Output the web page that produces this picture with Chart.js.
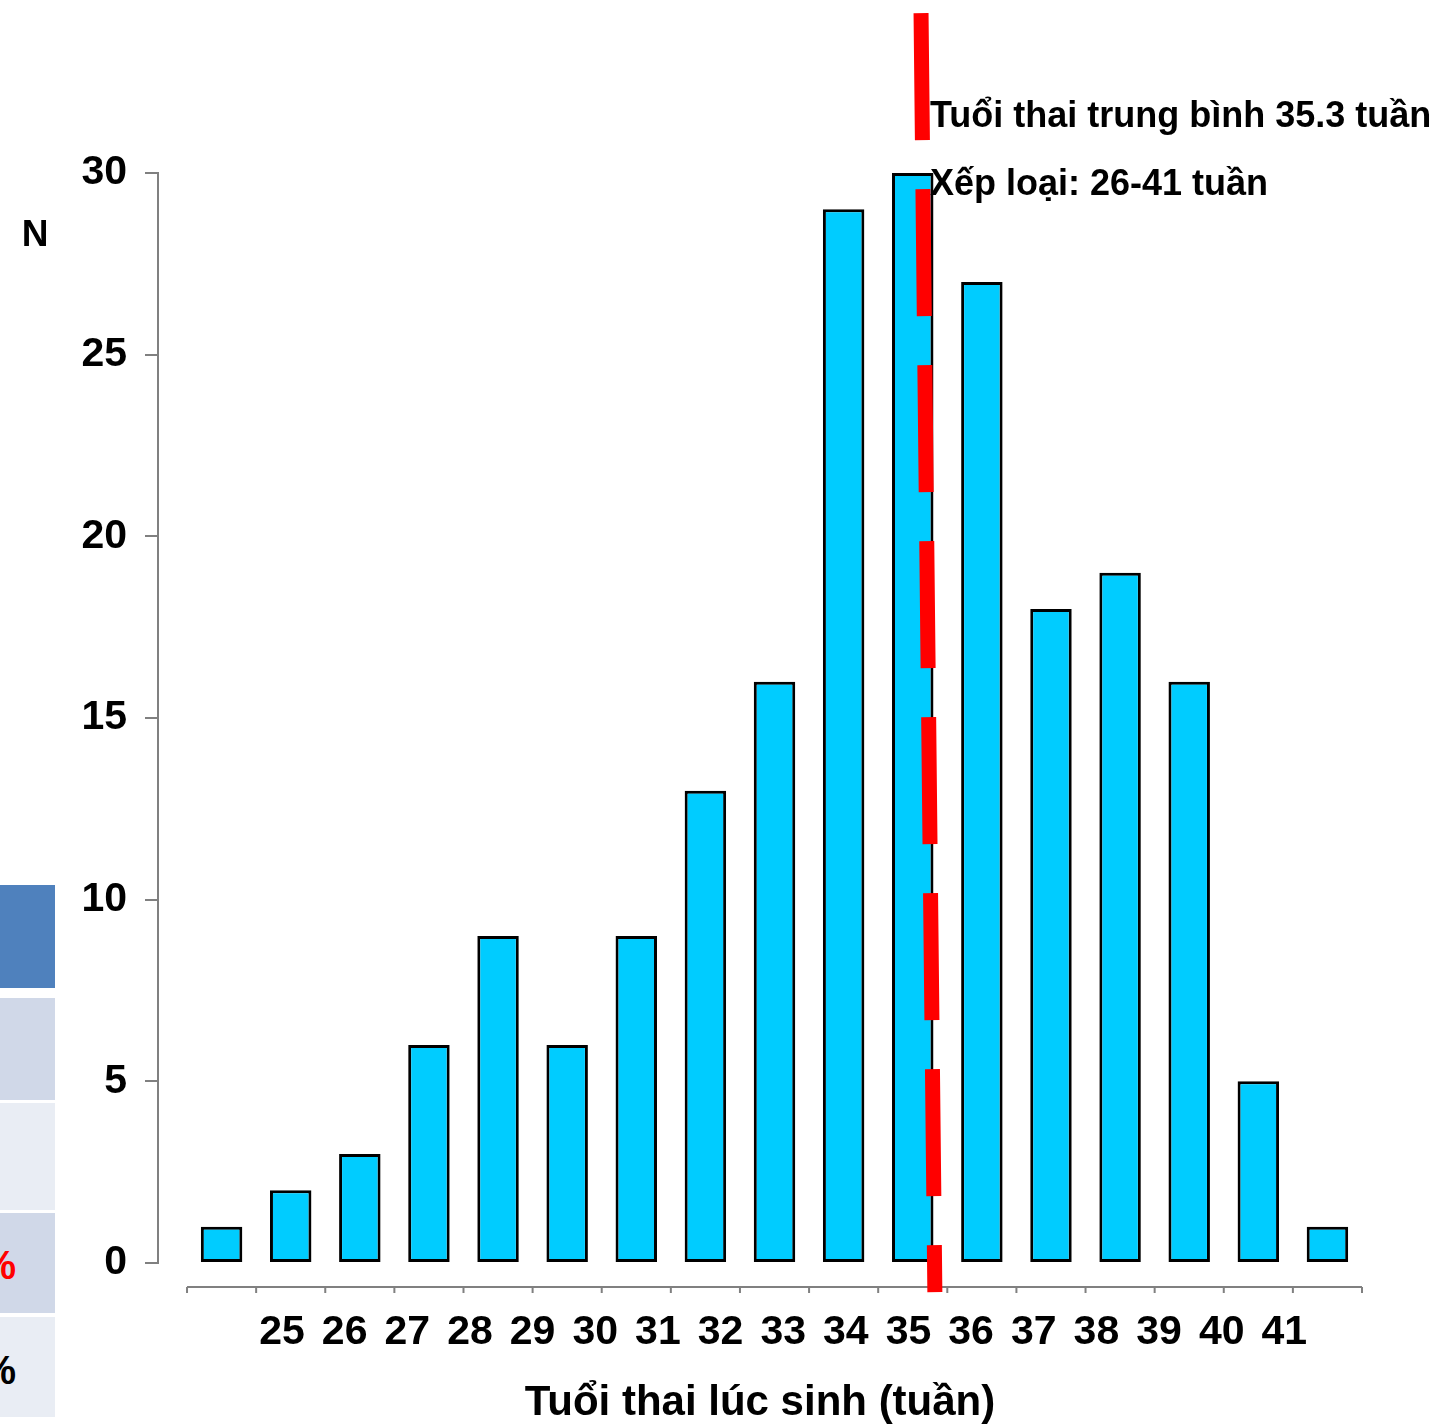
<!DOCTYPE html>
<html>
<head>
<meta charset="utf-8">
<script src="https://cdn.jsdelivr.net/npm/chart.js@4.4.1/dist/chart.umd.min.js"></script>
<style>
  html, body { margin: 0; padding: 0; background: #fff; }
  #wrap { position: relative; width: 1455px; height: 1424px; overflow: hidden; }
  #wrap canvas { position: absolute; left: 0; top: 0; }
  .cell { position: absolute; left: 0; width: 55px; }
  .pct { position: absolute; left: 16px; transform: translateX(-100%); font: bold 40px 'Liberation Sans', Arial, sans-serif; line-height: 40px; white-space: nowrap; }
</style>
</head>
<body>
<div id="wrap">
  <div class="cell" style="top:885px;height:103px;background:#4f81bd"></div>
  <div class="cell" style="top:998px;height:102px;background:#d0d8e8"></div>
  <div class="cell" style="top:1103px;height:107px;background:#e9edf4"></div>
  <div class="cell" style="top:1213px;height:100px;background:#d0d8e8"></div>
  <div class="cell" style="top:1317px;height:100px;background:#e9edf4"></div>
  <span class="pct" style="top:1245px;color:#ff0000">%</span>
  <span class="pct" style="top:1350px;color:#000">%</span>
  <canvas id="chart" width="1455" height="1424"></canvas>
</div>
<script>
// weeks of gestation and number of births
const weeks = [25, 26, 27, 28, 29, 30, 31, 32, 33, 34, 35, 36, 37, 38, 39, 40, 41];
const counts = [1, 2, 3, 6, 9, 6, 9, 13, 16, 29, 30, 27, 18, 19, 16, 5, 1];
const yTicks = [0, 5, 10, 15, 20, 25, 30];
// mean line as drawn (slightly tilted in the original)
const meanLine = [{x: 35.12, y: 34.4}, {x: 35.32, y: -0.8}];
const meanText = 'Tuổi thai trung bình 35.3 tuần';
const rangeText = 'Xếp loại: 26-41 tuần';
const xTitle = 'Tuổi thai lúc sinh (tuần)';
const yTitle = 'N';

Chart.defaults.font.family = "'Liberation Sans', Arial, sans-serif";
Chart.defaults.color = '#000';

const extras = {
  id: 'extras',
  beforeDatasetsDraw(chart) {
    const {ctx, scales: {x, y}} = chart;
    const ay = y.getPixelForValue(0) + 24;
    ctx.save();
    ctx.strokeStyle = '#808080';
    ctx.lineWidth = 2;
    ctx.beginPath();
    ctx.moveTo(x.getPixelForValue(weeks[0] - 0.5), ay);
    ctx.lineTo(x.getPixelForValue(weeks[weeks.length - 1] + 0.5), ay);
    for (let i = 0; i <= weeks.length; i++) {
      const px = x.getPixelForValue(weeks[0] - 0.5 + i);
      ctx.moveTo(px, ay);
      ctx.lineTo(px, ay + 6);
    }
    ctx.stroke();
    ctx.restore();
  },
  afterDraw(chart) {
    const ctx = chart.ctx;
    ctx.save();
    ctx.fillStyle = '#000';
    ctx.textBaseline = 'middle';
    ctx.textAlign = 'left';
    ctx.font = "bold 36px 'Liberation Sans', Arial, sans-serif";
    ctx.fillText(meanText, 930, 117);
    ctx.fillText(rangeText, 930, 185);
    ctx.textAlign = 'center';
    ctx.font = "bold 37px 'Liberation Sans', Arial, sans-serif";
    ctx.fillText(yTitle, 35, 236);
    ctx.restore();
  }
};

new Chart(document.getElementById('chart').getContext('2d'), {
  data: {
    datasets: [{
      type: 'line',
      data: meanLine,
      xAxisID: 'x',
      yAxisID: 'y',
      borderColor: '#ff0000',
      borderWidth: 15,
      borderDash: [127, 49],
      borderCapStyle: 'butt',
      pointRadius: 0,
      fill: false,
      clip: false,
      order: 0
    }, {
      type: 'bar',
      data: counts.map((v, i) => ({x: weeks[i], y: v})),
      xAxisID: 'x',
      yAxisID: 'y',
      backgroundColor: '#00ccff',
      borderColor: '#000',
      borderWidth: 3,
      borderSkipped: false,
      barPercentage: 0.6,
      categoryPercentage: 1,
      order: 1
    }]
  },
  options: {
    responsive: false,
    animation: false,
    layout: { autoPadding: false, padding: { top: 173, right: 93, left: 0, bottom: 0 } },
    plugins: { legend: { display: false }, tooltip: { enabled: false } },
    scales: {
      x: {
        type: 'linear',
        position: 'bottom',
        offset: false,
        bounds: 'data',
        min: 24.08,
        max: 41.5,
        afterBuildTicks: s => { s.ticks = weeks.map(v => ({value: v})); },
        afterFit: s => { s.height = 0; },
        grid: { display: false, drawTicks: false, offset: false },
        border: { display: false },
        ticks: { display: false }
      },
      xl: {
        type: 'linear',
        position: 'bottom',
        offset: false,
        bounds: 'data',
        min: 23.02,
        max: 42.24,
        afterBuildTicks: s => { s.ticks = weeks.map(v => ({value: v})); },
        afterFit: s => { s.height = 161; },
        grid: { display: false, drawTicks: true, tickLength: 45 },
        border: { display: false },
        ticks: {
          padding: 0,
          maxRotation: 0,
          autoSkip: false,
          font: { size: 41, weight: 'bold' },
          callback: v => String(v)
        },
        title: {
          display: true,
          text: xTitle,
          padding: 0,
          font: { size: 42, weight: 'bold', lineHeight: 1 }
        }
      },
      y: {
        min: 0,
        max: 30,
        afterBuildTicks: s => { s.ticks = yTicks.map(v => ({value: v})); },
        afterFit: s => { s.width = 158; },
        border: { display: true, color: '#808080', width: 2 },
        grid: { drawOnChartArea: false, drawTicks: true, tickLength: 13, color: '#808080', lineWidth: 2 },
        ticks: { padding: 18, font: { size: 41, weight: 'bold' } }
      }
    }
  },
  plugins: [extras]
});
</script>
</body>
</html>
